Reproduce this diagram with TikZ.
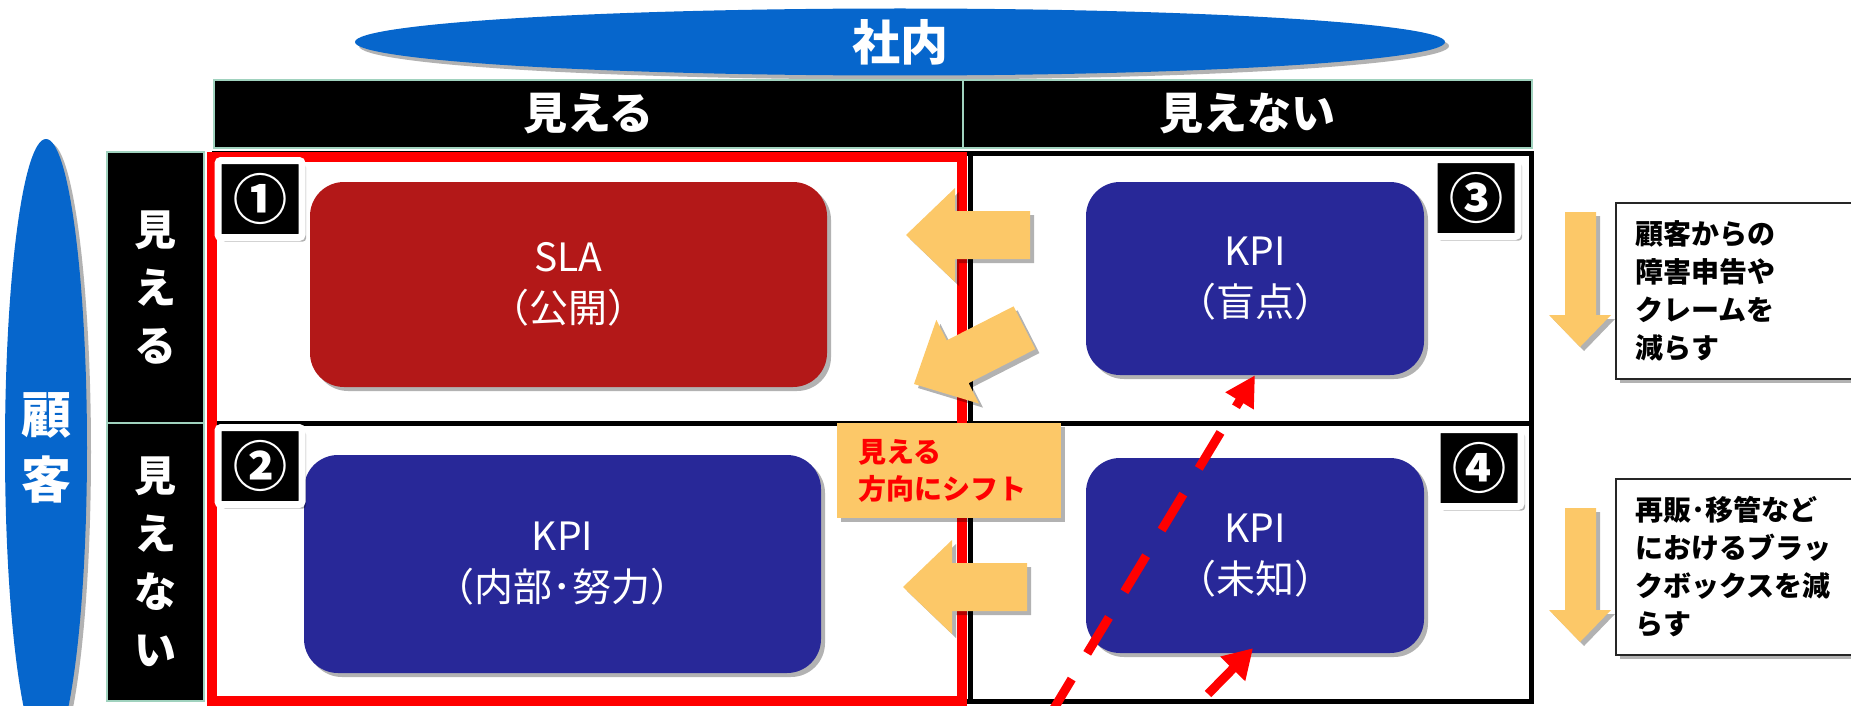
\documentclass[tikz,border=0pt]{standalone}
\usepackage{fontspec}
\setmainfont{Noto Sans CJK JP}
\usetikzlibrary{shapes.geometric,shadows,arrows.meta}
\definecolor{ellblue}{RGB}{6,102,204}
\definecolor{slared}{RGB}{179,24,24}
\definecolor{kpiblue}{RGB}{40,40,152}
\definecolor{yel}{RGB}{252,200,104}
\definecolor{hdrline}{RGB}{160,210,190}
\newcommand\fsz[2]{\fontsize{#1}{#2}\selectfont}
\begin{document}
\begin{tikzpicture}[x=1pt,y=-1pt,
  shd/.style={drop shadow={shadow xshift=4pt,shadow yshift=-4pt,opacity=0.3,fill=black}},
  ell/.style={ellipse,fill=ellblue,inner sep=0pt,text=white,align=center,shd},
  hdr/.style={rectangle,fill=black,draw=hdrline,line width=1.5pt,inner sep=0pt,text=white,font=\fsz{44}{50}\bfseries},
  colbox/.style={rectangle,fill=black,draw=hdrline,line width=1.5pt,inner sep=0pt,text=white,align=center,font=\fsz{42}{58}\bfseries},
  rbox/.style={rectangle,rounded corners=34pt,inner sep=0pt,text=white,align=center,font=\fsz{39}{51},shd},
  badge/.style={rectangle,fill=black,draw=white,line width=7pt,rounded corners=3pt,minimum width=84pt,minimum height=77pt,inner sep=0pt,text=white,font=\fsz{54}{54}\bfseries,shd},
  yarrow/.style={fill=yel,shd},
  note/.style={rectangle,draw=black!85,line width=1.5pt,fill=white,anchor=north west,align=left,inner xsep=20pt,text width=201pt,minimum height=176pt,font=\fsz{28}{38}\bfseries,shd},
  redarrow/.style={draw=red,line width=9pt,-{Triangle[width=31pt,length=30pt]}}
]
\useasboundingbox (0,0) rectangle (1851,706);
% ellipses
\node[ell,minimum width=82pt,minimum height=618pt,font=\fsz{50}{65}\bfseries] (cust) at (46,448) {顧\\客};
\node[ell,minimum width=1090pt,minimum height=67pt,font=\fsz{48}{58}\bfseries] (inhouse) at (900,42) {社内};
% header
\node[hdr,minimum width=749pt,minimum height=68pt] (hvis) at (588.5,114) {見える};
\node[hdr,minimum width=569pt,minimum height=68pt] (hinv) at (1247.5,114) {見えない};
% left columns
\node[colbox,minimum width=97pt,minimum height=271pt] (cvis) at (155.5,287.5) {見\\え\\る};
\node[colbox,minimum width=97pt,minimum height=278pt] (cinv) at (155.5,562) {見\\え\\な\\い};
% grid
\draw[line width=5pt] (214,153) rectangle (1531,701);
\draw[line width=5pt] (970,153) -- (970,701);
\draw[line width=5pt] (214,423) -- (1531,423);
\draw[red,line width=10pt] (212,157) rectangle (962,701);
% main boxes
\node[rbox,fill=slared,minimum width=517pt,minimum height=205pt] (sla) at (568.5,284.5) {SLA\\（公開）};
\node[rbox,fill=kpiblue,minimum width=338pt,minimum height=193pt] (mo) at (1255,278.5) {KPI\\（盲点）};
\node[rbox,fill=kpiblue,minimum width=517pt,minimum height=218pt] (nb) at (562.5,564) {KPI\\（内部･努力）};
\node[rbox,fill=kpiblue,minimum width=338pt,minimum height=195pt] (mi) at (1255,555.5) {KPI\\（未知）};
% badges
\node[badge] (b1) at (260,199) {①};
\node[badge] (b2) at (260,466) {②};
\node[badge] (b3) at (1476,198) {③};
\node[badge] (b4) at (1479,468) {④};
% yellow arrows
\fill[yarrow] (906,235) -- ++(49,-47) -- ++(0,23) -- ++(75,0) -- ++(0,48) -- ++(-75,0) -- ++(0,23) -- cycle;
\fill[yarrow] (903,587) -- ++(49,-47) -- ++(0,23) -- ++(75,0) -- ++(0,48) -- ++(-75,0) -- ++(0,23) -- cycle;
\begin{scope}[shift={(914,384)},rotate=27]
\fill[yarrow] (0,0) -- (49,-47) -- (49,-24) -- (124,-24) -- (124,24) -- (49,24) -- (49,47) -- cycle;
\end{scope}
% shift label
\node[fill=yel,shd,anchor=north west,minimum height=95pt,inner xsep=21pt,text width=182pt,align=left,text=red,font=\fsz{28}{37}\bfseries] (shift) at (837,423) {見える\\方向にシフト};
% red arrows
\coordinate (d0) at (1050,715);
\coordinate (s0) at (1208,694);
\draw[redarrow,dash pattern=on 42pt off 30pt] (d0) -- (mo.south);
\draw[redarrow,-{Triangle[width=33pt,length=29pt]}] (s0) -- ([shift={(-2pt,5pt)}]mi.south);
% right side
\fill[yarrow] (1565,212) -- (1596,212) -- (1596,315) -- (1611,315) -- (1580,347) -- (1549,315) -- (1565,315) -- cycle;
\fill[yarrow] (1565,508) -- (1596,508) -- (1596,610) -- (1611,610) -- (1580,642) -- (1549,610) -- (1565,610) -- cycle;
\node[note] (n1) at (1615,202) {顧客からの\\障害申告や\\クレームを\\減らす};
\node[note] (n2) at (1615,478) {再販･移管など\\におけるブラッ\\クボックスを減\\らす};
\end{tikzpicture}
\end{document}
